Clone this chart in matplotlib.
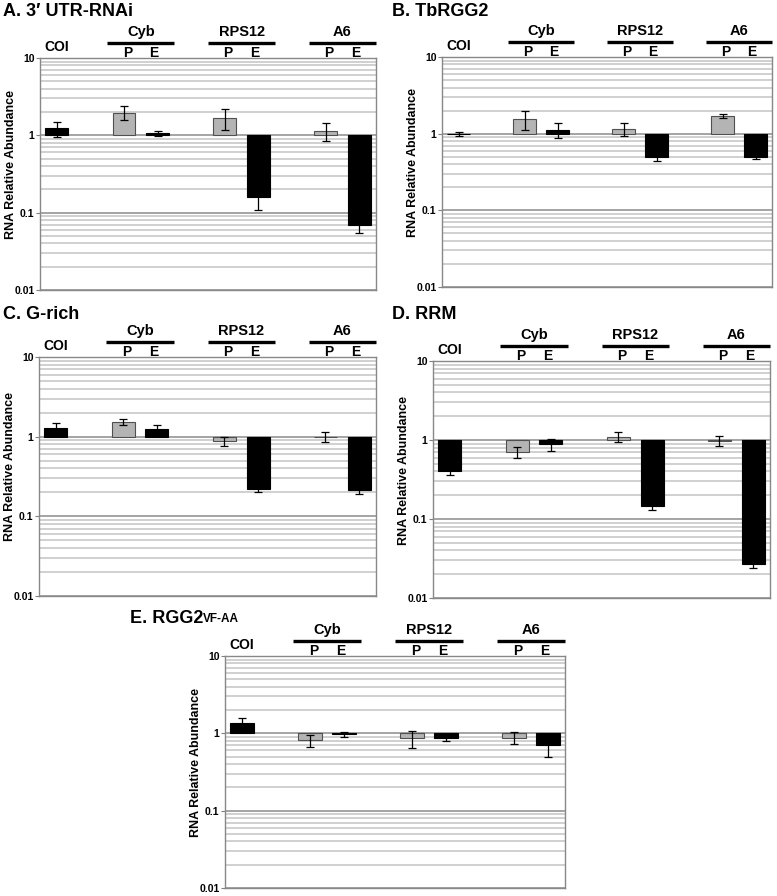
import numpy as np
import matplotlib
matplotlib.use("Agg")
import matplotlib.pyplot as plt
import matplotlib.transforms as mtransforms
from matplotlib.ticker import LogLocator, NullFormatter

plt.rcParams['font.family'] = ['Liberation Sans', 'DejaVu Sans']

# bar order: COI, Cyb P, Cyb E, RPS12 P, RPS12 E, A6 P, A6 E
bar_names = ["COI", "Cyb P", "Cyb E", "RPS12 P", "RPS12 E", "A6 P", "A6 E"]
bar_x = [0, 2, 3, 5, 6, 8, 9]
bar_kind = ["E", "P", "E", "P", "E", "P", "E"]

groups = ["Cyb", "RPS12", "A6"]
group_centers = [2.5, 5.5, 8.5]

y_ticks = [0.01, 0.1, 1, 10]
y_tick_labels = ["0.01", "0.1", "1", "10"]

titles = ["A. 3\u2032 UTR-RNAi", "B. TbRGG2", "C. G-rich", "D. RRM", "E. RGG2"]

a_vals = [1.23, 1.96, 1.06, 1.69, 0.161, 1.15, 0.069]
a_err = [0.27, 0.40, 0.08, 0.53, 0.053, 0.30, 0.014]
b_vals = [0.99, 1.55, 1.12, 1.16, 0.50, 1.72, 0.50]
b_err = [0.065, 0.42, 0.25, 0.23, 0.055, 0.10, 0.03]
c_vals = [1.27, 1.53, 1.25, 0.87, 0.221, 0.99, 0.211]
c_err = [0.22, 0.12, 0.15, 0.11, 0.02, 0.14, 0.02]
d_vals = [0.41, 0.70, 0.88, 1.10, 0.146, 0.98, 0.027]
d_err = [0.05, 0.11, 0.15, 0.15, 0.017, 0.15, 0.003]
e_vals = [1.38, 0.81, 0.97, 0.86, 0.88, 0.88, 0.70]
e_err = [0.22, 0.14, 0.08, 0.22, 0.08, 0.16, 0.21]

W, H = 777, 896
fig = plt.figure(figsize=(W / 100, H / 100), dpi=100)

# panel boxes in pixels: left, top, right, bottom
boxes = [(40, 58, 376, 290), (442, 57, 772, 287), (39, 357, 376, 596),
         (433, 361, 770, 598), (225, 656, 565, 888)]
title_pos = [(3, 12), (392, 12), (3, 314), (392, 314), (130, 618)]

all_vals = [a_vals, b_vals, c_vals, d_vals, e_vals]
all_err = [a_err, b_err, c_err, d_err, e_err]


def draw_panel(ax, vals, errs):
    colors = ["#000000" if k == "E" else "#b4b4b4" for k in bar_kind]
    edges = ["#000000" if k == "E" else "#505050" for k in bar_kind]
    heights = [v - 1 for v in vals]
    ax.set_yscale("log")
    ax.set_ylim(0.01, 10)
    ax.set_xlim(-0.5, 9.5)
    # grid lines
    ax.yaxis.set_minor_locator(LogLocator(base=10, subs=np.arange(2, 10)))
    ax.yaxis.set_minor_formatter(NullFormatter())
    ax.grid(which="minor", axis="y", color="#c4c4c4", lw=1.1, zorder=0)
    ax.grid(which="major", axis="y", color="#8c8c8c", lw=1.1, zorder=0)
    ax.set_axisbelow(True)
    ax.bar(bar_x, heights, bottom=1, width=0.68, color=colors,
           edgecolor=edges, linewidth=0.8, zorder=2)
    ax.errorbar(bar_x, vals, yerr=errs, fmt="none", ecolor="black",
                elinewidth=0.9, capsize=3, capthick=0.9, zorder=3)
    ax.set_yticks(y_ticks)
    ax.set_yticklabels(y_tick_labels, fontsize=7.5, fontweight="bold")
    ax.tick_params(axis="y", which="major", length=3, color="#808080", pad=1)
    ax.tick_params(axis="y", which="minor", length=0)
    ax.set_xticks([])
    for s in ax.spines.values():
        s.set_color("#888888")
        s.set_linewidth(1.0)
    ax.set_ylabel("RNA Relative Abundance", fontsize=9, fontweight="bold")
    ax.yaxis.set_label_coords(-23 / ax.bbox.width, 0.54)

    # labels above the plot
    trans = ax.get_xaxis_transform()
    ax.annotate("COI", xy=(0, 1), xycoords=trans, xytext=(0, 11),
                textcoords="offset pixels", ha="center", va="center",
                fontsize=10, fontweight="bold")
    line_tr = mtransforms.offset_copy(trans, fig=fig, y=15, units="dots")
    for g, c in zip(groups, group_centers):
        ax.plot([c - 1.0, c + 1.0], [1, 1], color="black", lw=2.4,
                transform=line_tr, clip_on=False, solid_capstyle="butt")
        ax.annotate(g, xy=(c, 1), xycoords=trans, xytext=(0, 26),
                    textcoords="offset pixels", ha="center", va="center",
                    fontsize=10.5, fontweight="bold")
        ax.annotate("P", xy=(c - 0.4, 1), xycoords=trans, xytext=(0, 5),
                    textcoords="offset pixels", ha="center", va="center",
                    fontsize=10, fontweight="bold")
        ax.annotate("E", xy=(c + 0.4, 1), xycoords=trans, xytext=(0, 5),
                    textcoords="offset pixels", ha="center", va="center",
                    fontsize=10, fontweight="bold")


for i, (l, t, r, b) in enumerate(boxes):
    ax = fig.add_axes([l / W, 1 - b / H, (r - l) / W, (b - t) / H])
    draw_panel(ax, all_vals[i], all_err[i])
    tx, ty = title_pos[i]
    txt = fig.text(tx / W, 1 - ty / H, titles[i], fontsize=13,
                   fontweight="bold", ha="left", va="center")
    if i == 4:
        ax.annotate("VF-AA", xy=(1, 0.06), xycoords=txt, ha="left",
                    va="bottom", fontsize=8.5, fontweight="bold")

fig.savefig("out.png", dpi=100)
